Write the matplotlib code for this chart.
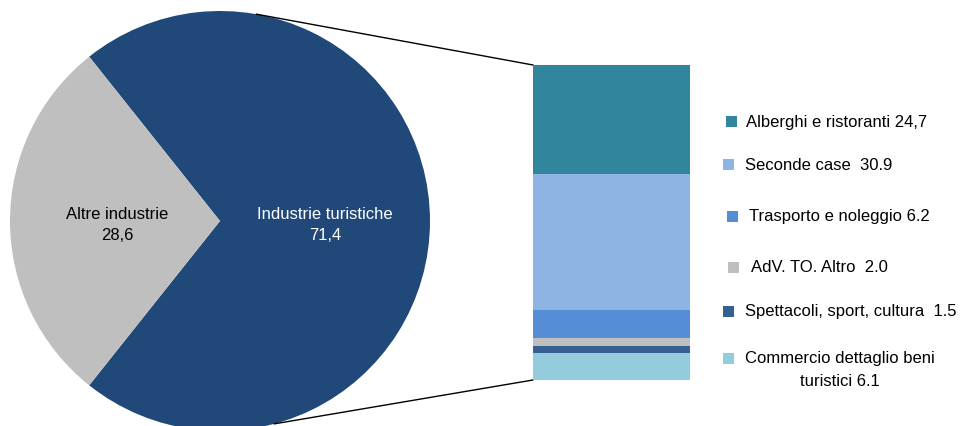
import matplotlib
matplotlib.use("Agg")
import matplotlib.pyplot as plt
from matplotlib.patches import Rectangle
import numpy as np

plt.rcParams["font.family"] = ["Liberation Sans", "DejaVu Sans"]

# ====== dati ======
pie_labels = ["Industrie turistiche", "Altre industrie"]
pie_values = [71.4, 28.6]
pie_colors = ["#20497A", "#BFBFBF"]

# dal basso verso l'alto
bar_labels = ["Commercio dettaglio beni\nturistici 6.1",
              "Spettacoli, sport, cultura  1.5",
              "AdV. TO. Altro  2.0",
              "Trasporto e noleggio 6.2",
              "Seconde case  30.9",
              "Alberghi e ristoranti 24,7"]
bar_values = [6.1, 1.5, 2.0, 6.2, 30.9, 24.7]
bar_colors = ["#93CDDD", "#376092", "#BFBFBF", "#558ED5", "#8EB4E3", "#31859C"]

W, H = 960, 427
fig = plt.figure(figsize=(W / 100, H / 100), dpi=100)
ax = fig.add_axes([0, 0, 1, 1])

# ====== torta ======
cx, cy, r = 220, H - 222, 210
start = 180 + pie_values[1] * 3.6 / 2
ax.pie(pie_values, colors=pie_colors, startangle=start, counterclock=True,
       center=(cx, cy), radius=r, frame=True,
       wedgeprops=dict(linewidth=0))
ax.set_xlim(0, W)
ax.set_ylim(0, H)
ax.set_aspect("equal")
ax.axis("off")

ax.text(117, H - 225, "Altre industrie\n28,6", ha="center", va="center",
        fontsize=12, color="black", linespacing=1.45)
ax.text(325, H - 225, "Industrie turistiche\n71,4", ha="center", va="center",
        fontsize=12, color="white", linespacing=1.45)

# ====== barra impilata ======
bx0, bx1, by_top, by_bot = 533, 690, 66, 381
bax = fig.add_axes([bx0 / W, (H - by_bot) / H, (bx1 - bx0) / W, (by_bot - by_top) / H])
bottom = 0
for v, c in zip(bar_values, bar_colors):
    bax.bar(0, v, bottom=bottom, color=c, width=1.0, linewidth=0)
    bottom += v
bax.set_xlim(-0.5, 0.5)
bax.set_ylim(0, sum(bar_values))
bax.axis("off")

# linee di collegamento
a1, a2 = np.radians(80), np.radians(-75)
ax.plot([cx + r * np.cos(a1), bx0], [cy + r * np.sin(a1), H - by_top], color="black", lw=1.0)
ax.plot([cx + r * np.cos(a2), bx0], [cy + r * np.sin(a2), H - by_bot], color="black", lw=1.0)

# ====== legenda ======
leg_y = [359, 312, 268, 217, 165, 122]
leg_sq_x = [723, 723, 728, 727, 723, 726]
leg_tx_x = [745, 745, 751, 749, 745, 746]
for lab, c, y, sx, tx in zip(bar_labels, bar_colors, leg_y, leg_sq_x, leg_tx_x):
    ax.add_patch(Rectangle((sx, H - y - 5.5), 11, 11, color=c, lw=0))
    if "\n" in lab:
        l1, l2 = lab.split("\n")
        ax.text(tx, H - y, l1, ha="left", va="center", fontsize=12)
        ax.text(tx + 95, H - y - 23, l2, ha="center", va="center", fontsize=12)
    else:
        ax.text(tx, H - y, lab, ha="left", va="center", fontsize=12)

fig.savefig("out.png", dpi=100)
